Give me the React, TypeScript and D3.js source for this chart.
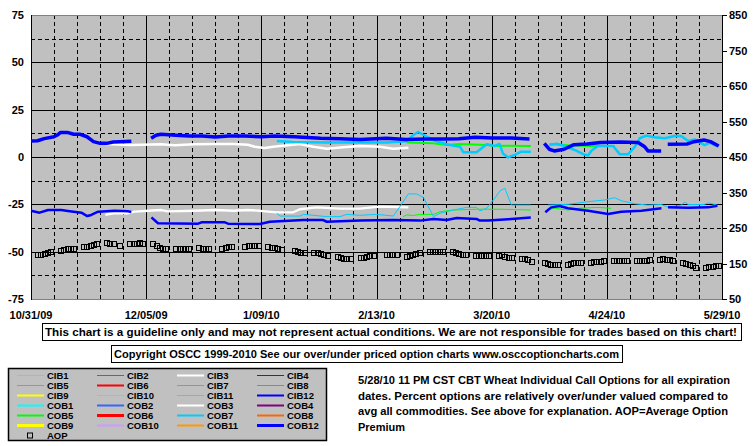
import React from 'react';
import * as d3 from 'd3';

const START = new Date(2009, 9, 31);
const END = new Date(2010, 4, 29);
const xTickLabels = ['10/31/09', '12/05/09', '1/09/10', '2/13/10', '3/20/10', '4/24/10', '5/29/10'];
const leftTicks = [75, 50, 25, 0, -25, -50, -75];
const rightTicks = [850, 750, 650, 550, 450, 350, 250, 150, 50];

type P = [number, number] | null;

// [day offset from 10/31/09, percent]
const COB12: P[] = [
  [0, 8.5], [2, 8.6], [4, 9.7], [7, 10.7], [8, 11.6], [9, 13], [11, 13], [13, 12], [15, 12], [17, 10.7], [19, 8.1], [21, 7.2], [23, 7.2], [25, 7.9], [27, 8.1], [30.5, 8.3], null,
  [36.5, 9.9], [38, 11.5], [39.5, 12], [44, 11.5], [48, 11.1], [52, 11.1], [56, 10.6], [60, 11.1], [65, 11.1], [70, 10.7], [74, 11.1], [80, 10.7], [88, 9.9], [94, 9.7], [100, 9.3], [108, 9.9], [114, 9.3], [120, 9.5], [126, 9.5], [130, 9.7], [135, 10.4], [140, 10], [146, 10], [151.5, 9.5], null,
  [156, 7.2], [157.5, 4.1], [159, 3.2], [162, 4.1], [165, 6.5], [169, 6.9], [173, 7.6], [179, 7.9], [184.5, 7.7], [186.5, 5.4], [187.5, 3.2], [191.5, 3.2], null,
  [193.5, 6.7], [199.5, 6.9], [201.5, 8.1], [204.5, 9], [206.5, 8.1], [209, 5.8],
];
const COB3: P[] = [
  [22.5, 6.9], [30.4, 6.3], [39.6, 6.7], [43.7, 6.2], [49.7, 6.7], [55.8, 6.9], [61.7, 6.9], [65.9, 6.5], [68, 5.4], [71, 4.75], [73.6, 5.4], [78.7, 6.3], [81.7, 6.9], [85.8, 5.4], [89.9, 4.4], [94.9, 5.1], [100, 5.8], [106, 5.4], [110.1, 4.4], [114.7, 4.9],
];
const COB7: P[] = [
  [74.7, 8.45], [79.7, 7.9], [89.9, 7.6], [100, 7.6], [108.1, 7.6], [114.2, 8.3], [116.2, 11.6], [117.7, 13.2], [120.3, 10.7], [123.3, 8.1], [127.3, 6.3], [130.4, 5.4], [131.4, 2.5], [135.4, 2.5], [138.5, 6.7], [140.9, 5.8], [142.4, 6.9], [143.4, 1.9], [145, -0.2], [147, 1.1], [149, 2.8], [151.9, 2.8], null,
  [157.6, 6.3], [159.7, 7.0], [162.2, 5.8], [165.2, 3.7], [167.8, 1.5], [169.3, 0.8], [170.3, 3.3], [172.3, 5.8], [176.9, 5.8], [178.9, 1.5], [181.5, 1.5], [183.5, 5.4], [185, 9.9], [187, 11.3], [189.5, 10.4], [192.6, 9.9], [195.6, 11.1], [197.6, 11.1], [199.7, 8.45], [201.7, 9.3], [204.7, 6.3], [206.3, 7.6], [207.8, 6.3], [208.8, 5.8],
];
const COB5: P[] = [
  [114.2, 7.7], [122.3, 7.2], [126.3, 6.3], [130.4, 6.9], [136.4, 6.5], [138.9, 6.3], [140.5, 5.8], [145, 6.0], [151.9, 5.8], null,
  [157.6, 6.9], [163.2, 6.2], [169.3, 5.8], [177.4, 5.8],
];
const CIB12: P[] = [
  [0, -28.4], [2.6, -29.4], [5.2, -28], [9.2, -28], [11.2, -28.5], [15.3, -29.4], [17.1, -31.2], [18.3, -30.6], [20.4, -28.9], [25.4, -28.4], [29.5, -28.7], [30.5, -29], null,
  [36.6, -31.9], [38.6, -35], [50.8, -35.2], [51.8, -34.5], [58.9, -34.5], [59.9, -35.2], [69.6, -35.4], [72.6, -34.2], [82.8, -33.3], [88.8, -33.3], [89.9, -34.2], [100, -33.6], [110.1, -33.3], [118.2, -33.6], [122.3, -32.7], [126.3, -33.3], [129.4, -32.2], [135.4, -32.7], [136.4, -33.6], [138.9, -33.6], [145, -32.9], [151.9, -32], null,
  [156.3, -29.2], [158.1, -26.6], [160.7, -25.9], [163.2, -27.1], [169.3, -28.4], [175.4, -30.1], [179.4, -28.9], [185.5, -28.4], [191.6, -27.1], null,
  [193.6, -26.6], [199.7, -26.8], [205.8, -26.6], [208.6, -25.7],
];
const CIB3: P[] = [
  [22.6, -30.5], [25.4, -29.7], [29.5, -29.7], [31.5, -28.9], [35.6, -28.4], [39.6, -28], [41.6, -28.7], [49.7, -28.4], [55.8, -28], [61.7, -28.4], [65.9, -28], [69.6, -28.4], [74.7, -29.2], [79.7, -29.2], [81.7, -27.6], [86.8, -26.6], [93.9, -27.3], [100, -27.3], [106, -26.2], [114.7, -26.6],
];
const CIB7: P[] = [
  [74.7, -29.7], [75.7, -31.2], [81.7, -31.2], [82.8, -30.3], [89.9, -31.5], [93.9, -31.5], [96, -30.3], [100, -30.8], [105.1, -30.3], [110.1, -31.2], [112.1, -26.2], [114.7, -19.5], [117.2, -19.5], [119.2, -21.3], [121.3, -28], [122.3, -31.5], [124.3, -29.7], [127.3, -28.4], [132.4, -26.6], [135.4, -26.6], [136.4, -28.4], [138.5, -27.1], [140.5, -22.7], [142.6, -17.8], [144, -16.5], [145, -21], [146, -25.4], [151.9, -25.4], null,
  [157.1, -25.4], [163.2, -25], [169.3, -23.6], [174.3, -22.7], [177.4, -21.5], [179.4, -23.1], [183.5, -24.7], [187.5, -25.4], [191.6, -25.1], [193.6, -26.6], [197.6, -25.4], [198.7, -23.8], [199.7, -25.1], [204.7, -25.1], [205.8, -24.2], [208.6, -25.4],
];
const CIB5: P[] = [
  [113.1, -31.5], [114.2, -30.6], [116.2, -30.9], [118.2, -30.3], [122.3, -30.3], [124.3, -28.9], [128.3, -28], [135.4, -27.6], [142.6, -27.6], [151.9, -28], null,
  [157.1, -27.6], [159.2, -27.1], [163.2, -28], [166.2, -27.1], [172.3, -26.6], [176.3, -27.1],
];

// Average option premium (right axis), weekly: Monday date + Mon..Fri values (null = market holiday)
const aopWeeks: [string, (number | null)[]][] = [
  ['2009-11-02', [176, 174, 179, 182, 183]],
  ['2009-11-09', [186, 190, 192, 192, 192]],
  ['2009-11-16', [197, 199, 202, 204, 205]],
  ['2009-11-23', [209, 207, 205, null, 202]],
  ['2009-11-30', [207, 207, 207, 209, 207]],
  ['2009-12-07', [207, 200, 196, 193, 191]],
  ['2009-12-14', [192, 192, 193, 192, 192]],
  ['2009-12-21', [194, 193, 191, 191, null]],
  ['2009-12-28', [193, 196, 197, 197, null]],
  ['2010-01-04', [199, 201, 201, 200, 200]],
  ['2010-01-11', [199, 196, 194, 193, 190]],
  ['2010-01-18', [null, 186, 183, 180, 180]],
  ['2010-01-25', [180, 180, 177, 174, 172]],
  ['2010-02-01', [169, 166, 165, 165, 165]],
  ['2010-02-08', [167, 167, 169, 172, 172]],
  ['2010-02-15', [null, 174, 174, 174, 174]],
  ['2010-02-22', [171, 173, 176, 179, 180]],
  ['2010-03-01', [183, 183, 184, 183, 183]],
  ['2010-03-08', [183, 180, 179, 175, 174]],
  ['2010-03-15', [172, 172, 172, 172, 172]],
  ['2010-03-22', [172, 174, 169, 166, 166]],
  ['2010-03-29', [165, 165, 160, 155, null]],
  ['2010-04-05', [152, 149, 148, 148, 148]],
  ['2010-04-12', [148, 151, 152, 152, 152]],
  ['2010-04-19', [152, 155, 155, 155, 158]],
  ['2010-04-26', [158, 158, 158, 158, 158]],
  ['2010-05-03', [158, 158, 158, 158, 160]],
  ['2010-05-10', [162, 165, 162, 162, 158]],
  ['2010-05-17', [153, 149, 146, 143, 139]],
  ['2010-05-24', [139, 141, 141, 143, 144]],
];

const seriesNames = ['CIB1', 'CIB2', 'CIB3', 'CIB4', 'CIB5', 'CIB6', 'CIB7', 'CIB8', 'CIB9', 'CIB10', 'CIB11', 'CIB12',
  'COB1', 'COB2', 'COB3', 'COB4', 'COB5', 'COB6', 'COB7', 'COB8', 'COB9', 'COB10', 'COB11', 'COB12'];
const seriesColors = ['#00FFFF', '#3366FF', '#FFFFFF', '#800080', '#00FF00', '#FF0000', '#00CCFF', '#FF6600', '#FFFF00', '#CC99FF', '#FF9900', '#0000FF'];
const cibWidths = [1, 1, 2, 1, 1, 2, 1, 1, 2, 1, 1, 2];
const cobWidths = [2, 2, 2, 2, 2, 3, 2, 2, 3, 2, 2, 3];

const noteLines = [
  '5/28/10 11 PM CST CBT Wheat Individual Call Options for all expiration',
  'dates. Percent options are relatively over/under valued compared to',
  'avg all commodities. See above for explanation. AOP=Average Option',
  'Premium',
];
const disclaimer = 'This chart is a guideline only and may not represent actual conditions. We are not responsible for trades based on this chart!';
const copyright = 'Copyright OSCC 1999-2010 See our over/under priced option charts www.osccoptioncharts.com';

const FONT = "'Liberation Sans', Arial, Helvetica, sans-serif";

export default function App() {
  const L = 31, R = 722, T = 15, B = 299;
  const totalDays = d3.timeDay.count(START, END);
  const xDay = d3.scaleLinear().domain([0, totalDays]).range([L, R]);
  const xDate = (d: Date) => xDay(d3.timeDay.count(START, d));
  const yL = d3.scaleLinear().domain([-75, 75]).range([B, T]);
  const yR = d3.scaleLinear().domain([50, 850]).range([B, T]);

  const line = d3.line<P>()
    .defined((d) => d !== null)
    .x((d) => xDay((d as [number, number])[0]))
    .y((d) => yL((d as [number, number])[1]))
    .curve(d3.curveLinear);

  const weekDays = d3.range(7, totalDays, 7).filter((d) => d % 35 !== 0);
  const majorDays = d3.range(35, totalDays, 35);
  const solidH = [50, 25, 0, -25, -50];
  const dashedH = [62.5, 37.5, 12.5, -12.5, -37.5, -62.5];

  const aopPoints: { x: number; y: number }[] = [];
  const parse = d3.timeParse('%Y-%m-%d');
  aopWeeks.forEach(([mon, vals]) => {
    const m = parse(mon) as Date;
    vals.forEach((v, i) => {
      if (v === null) return;
      const d = d3.timeDay.offset(m, i);
      aopPoints.push({ x: xDate(d), y: yR(v) });
    });
  });

  const drawn: { data: P[]; color: string; w: number }[] = [
    { data: CIB3, color: seriesColors[2], w: 2.3 },
    { data: CIB5, color: seriesColors[4], w: 1 },
    { data: CIB7, color: seriesColors[6], w: 1 },
    { data: CIB12, color: seriesColors[11], w: 2.5 },
    { data: COB3, color: seriesColors[2], w: 2.5 },
    { data: COB5, color: seriesColors[4], w: 2 },
    { data: COB7, color: seriesColors[6], w: 2.5 },
    { data: COB12, color: seriesColors[11], w: 3.5 },
  ];

  const legX = [17, 97, 177, 257];
  const legRowY = (r: number) => 375.5 + r * 10;

  return (
    <svg width={755} height={446} style={{ position: 'absolute', left: 0, top: 0, background: '#fff' }} fontFamily={FONT} fontWeight="bold">
      <rect x={0} y={0} width={755} height={446} fill="#fff" />
      <rect x={L} y={T} width={R - L} height={B - T} fill="#C0C0C0" />
      {/* grid */}
      {dashedH.map((v) => (
        <line key={'dh' + v} x1={L} x2={R} y1={Math.round(yL(v)) + 0.5} y2={Math.round(yL(v)) + 0.5} stroke="#000" strokeDasharray="4,3" />
      ))}
      {weekDays.map((d) => (
        <line key={'dv' + d} x1={Math.round(xDay(d)) + 0.5} x2={Math.round(xDay(d)) + 0.5} y1={T} y2={B} stroke="#000" strokeDasharray="4,3" />
      ))}
      {solidH.map((v) => (
        <line key={'sh' + v} x1={L} x2={R} y1={Math.round(yL(v)) + 0.5} y2={Math.round(yL(v)) + 0.5} stroke="#000" />
      ))}
      {majorDays.map((d) => (
        <line key={'sv' + d} x1={Math.round(xDay(d)) + 0.5} x2={Math.round(xDay(d)) + 0.5} y1={T} y2={B} stroke="#000" />
      ))}
      <line x1={L} x2={R} y1={T + 0.5} y2={T + 0.5} stroke="#808080" />
      <line x1={L} x2={R} y1={B + 0.5} y2={B + 0.5} stroke="#808080" />
      <line x1={L + 0.5} x2={L + 0.5} y1={T} y2={B + 1} stroke="#000" />
      <line x1={R + 0.5} x2={R + 0.5} y1={T} y2={B + 1} stroke="#000" />

      {/* series */}
      {drawn.map((s, i) => (
        <path key={'s' + i} d={line(s.data) || ''} fill="none" stroke={s.color} strokeWidth={s.w} strokeLinejoin="round" />
      ))}
      {aopPoints.map((p, i) => (
        <rect key={'a' + i} x={Math.round(p.x - 2.5) + 0.5} y={Math.round(p.y - 2.5) + 0.5} width={5} height={5} fill="none" stroke="#000" />
      ))}

      {/* axes labels */}
      {leftTicks.map((v) => (
        <text key={'lt' + v} x={24} y={yL(v) + 4} textAnchor="end" fontSize={11}>{v}</text>
      ))}
      {rightTicks.map((v) => (
        <g key={'rt' + v}>
          <line x1={R} x2={R + 5} y1={Math.round(yR(v)) + 0.5} y2={Math.round(yR(v)) + 0.5} stroke="#000" />
          <text x={729} y={yR(v) + 4} fontSize={11}>{v}</text>
        </g>
      ))}
      {xTickLabels.map((t, i) => (
        <text key={'xt' + t} x={xDay(i * 35)} y={319} textAnchor="middle" fontSize={11}>{t}</text>
      ))}

      {/* notice boxes */}
      <rect x={42.5} y={323.5} width={699} height={17} fill="#fff" stroke="#000" />
      <text x={45} y={336} fontSize={11} textLength={692} lengthAdjust="spacingAndGlyphs">{disclaimer}</text>
      <rect x={111.5} y={345.5} width={511} height={17} fill="#fff" stroke="#000" />
      <text x={114} y={358} fontSize={11} textLength={505} lengthAdjust="spacingAndGlyphs">{copyright}</text>

      {/* legend */}
      <rect x={8.5} y={368.5} width={318} height={72} fill="#C0C0C0" stroke="#000" strokeWidth={1.5} />
      {seriesNames.map((n, i) => {
        const row = Math.floor(i / 4);
        const col = i % 4;
        const ci = i % 12;
        const w = i < 12 ? cibWidths[ci] : cobWidths[ci];
        const y = legRowY(row);
        return (
          <g key={'lg' + n}>
            <line x1={legX[col]} x2={legX[col] + 27} y1={y} y2={y} stroke={seriesColors[ci]} strokeWidth={w} />
            <text x={legX[col] + 30} y={y + 3.5} fontSize={9.5}>{n}</text>
          </g>
        );
      })}
      <rect x={27.5} y={legRowY(6) - 2.5} width={5} height={5} fill="none" stroke="#000" />
      <text x={47} y={legRowY(6) + 3.5} fontSize={9.5}>AOP</text>

      {/* notes */}
      {noteLines.map((t, i) => (
        <text key={'n' + i} x={358} y={384 + i * 15.5} fontSize={11}
          {...(i < 3 ? { textLength: [372, 370, 370][i], lengthAdjust: 'spacingAndGlyphs' } : {})}>{t}</text>
      ))}
    </svg>
  );
}
